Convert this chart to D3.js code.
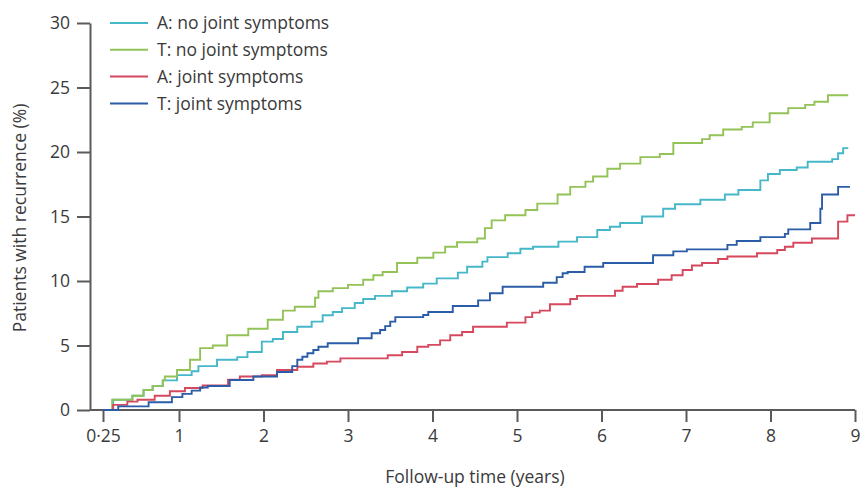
<!DOCTYPE html>
<html>
<head>
<meta charset="utf-8">
<script src="https://cdn.jsdelivr.net/npm/d3@7/dist/d3.min.js"></script>
<style>
  html, body { margin: 0; padding: 0; background: #fff; }
  svg { display: block; font-family: "Open Sans", "Noto Sans", sans-serif; }
  .tick text { fill: #3a3a3a; }
</style>
</head>
<body>
<svg id="chart" width="861" height="488"></svg>
<script>
// Cumulative recurrence, step points as [follow-up time (years), percent]
const aNoJoint = [
  [0.25,0],[0.35,0.8],[0.54,1.1],[0.65,1.55],[0.74,1.85],[0.84,2.3],[0.98,2.7],[1.15,3.0],
  [1.23,3.4],[1.45,3.9],[1.69,4.1],[1.81,4.5],[1.98,5.3],[2.11,5.5],[2.23,6.05],[2.40,6.45],
  [2.57,6.85],[2.70,7.35],[2.82,7.6],[2.93,7.9],[3.08,8.3],[3.18,8.6],[3.32,8.85],[3.52,9.2],
  [3.70,9.5],[3.89,9.8],[4.05,10.2],[4.30,10.65],[4.41,11.1],[4.59,11.5],[4.65,11.85],
  [4.89,12.15],[5.04,12.5],[5.19,12.65],[5.49,13.05],[5.71,13.4],[5.95,13.95],[6.10,14.2],
  [6.22,14.5],[6.48,15.0],[6.73,15.6],[6.87,15.95],[7.17,16.3],[7.46,16.7],[7.62,17.05],
  [7.88,17.8],[7.97,18.3],[8.11,18.6],[8.31,18.8],[8.44,19.25],[8.73,19.45],[8.80,19.9],
  [8.86,20.3],[8.92,20.3]
];
const tNoJoint = [
  [0.25,0],[0.34,0.8],[0.54,1.1],[0.65,1.55],[0.74,1.85],[0.84,2.3],[0.86,2.6],[0.98,3.1],
  [1.13,3.9],[1.25,4.8],[1.40,5.0],[1.57,5.8],[1.82,6.3],[2.05,7.0],[2.23,7.7],[2.37,8.0],
  [2.61,8.7],[2.65,9.2],[2.82,9.45],[3.00,9.7],[3.18,10.1],[3.30,10.45],[3.41,10.7],
  [3.58,11.4],[3.82,11.8],[4.01,12.2],[4.15,12.65],[4.29,13.0],[4.53,13.3],[4.62,14.1],
  [4.70,14.7],[4.86,15.1],[5.10,15.5],[5.24,16.0],[5.48,16.7],[5.63,17.3],[5.81,17.7],
  [5.90,18.1],[6.07,18.7],[6.22,19.1],[6.46,19.6],[6.69,19.85],[6.85,20.7],[7.19,21.0],
  [7.28,21.3],[7.44,21.75],[7.66,21.95],[7.79,22.3],[7.99,23.0],[8.21,23.4],[8.41,23.65],
  [8.52,23.9],[8.68,24.4],[8.92,24.4]
];
const aJoint = [
  [0.25,0],[0.35,0.4],[0.49,0.65],[0.59,0.8],[0.76,1.1],[0.91,1.45],[1.07,1.7],[1.28,1.9],
  [1.58,2.35],[1.72,2.6],[1.98,2.7],[2.16,3.1],[2.40,3.35],[2.59,3.6],[2.75,3.75],[2.91,4.0],
  [3.47,4.25],[3.64,4.5],[3.82,4.9],[3.95,5.05],[4.09,5.4],[4.21,5.8],[4.35,6.05],[4.48,6.45],
  [4.88,6.77],[5.10,7.2],[5.18,7.55],[5.27,7.7],[5.39,8.2],[5.63,8.6],[5.71,8.85],[6.16,9.25],
  [6.25,9.55],[6.42,9.77],[6.67,10.1],[6.83,10.45],[6.96,10.85],[7.07,11.2],[7.19,11.4],
  [7.38,11.7],[7.49,11.9],[7.84,12.15],[8.08,12.4],[8.17,12.65],[8.27,12.97],[8.49,13.3],
  [8.80,14.6],[8.91,15.1],[9.0,15.1]
];
const tJoint = [
  [0.25,0],[0.40,0.28],[0.70,0.6],[0.93,1.0],[1.04,1.25],[1.15,1.5],[1.25,1.75],[1.34,1.86],
  [1.60,2.33],[1.88,2.6],[2.16,2.95],[2.34,3.4],[2.40,3.9],[2.46,4.13],[2.52,4.4],[2.59,4.65],
  [2.65,4.9],[2.76,5.17],[3.12,5.56],[3.28,5.95],[3.38,6.2],[3.44,6.5],[3.50,6.85],[3.56,7.2],
  [3.89,7.36],[3.95,7.6],[4.24,8.06],[4.54,8.5],[4.68,9.05],[4.83,9.55],[5.31,9.87],
  [5.47,10.3],[5.54,10.6],[5.60,10.7],[5.80,11.1],[6.02,11.4],[6.61,12.0],[6.85,12.3],
  [7.01,12.45],[7.49,12.8],[7.60,13.1],[7.88,13.4],[8.17,13.65],[8.21,14.0],[8.47,14.5],
  [8.59,15.6],[8.61,16.7],[8.80,17.3],[8.94,17.3]
];

const seriesNames = ["A: no joint symptoms", "T: no joint symptoms", "A: joint symptoms", "T: joint symptoms"];
const seriesColors = ["#45b7c8", "#93c257", "#d6485d", "#2b5ca8"];
const seriesData = [aNoJoint, tNoJoint, aJoint, tJoint];

const xTicks = [0.25, 1, 2, 3, 4, 5, 6, 7, 8, 9];
const xTickLabels = ["0·25", "1", "2", "3", "4", "5", "6", "7", "8", "9"];
const yTicks = [0, 5, 10, 15, 20, 25, 30];

const svg = d3.select("#chart");
const axisColor = "#5a5a5a";
const fontSize = 17.5;

// First interval (0.25 to 1 year) is drawn on its own stretch of the axis
const x = d3.scaleLinear().domain([0.25, 1, 9]).range([103, 179, 855]);
const y = d3.scaleLinear().domain([0, 30]).range([410, 23]);
const yAxisX = 90;

// Y axis
const yAxisG = svg.append("g")
  .attr("transform", `translate(${yAxisX},0)`)
  .call(d3.axisLeft(y).tickValues(yTicks).tickSize(13).tickSizeOuter(0).tickPadding(7));
yAxisG.select(".domain").attr("stroke", axisColor).attr("stroke-width", 2);
yAxisG.selectAll(".tick line").attr("stroke", axisColor).attr("stroke-width", 2);
yAxisG.selectAll(".tick text").attr("font-size", fontSize).attr("font-family", "Open Sans");

// X axis
const xAxisG = svg.append("g")
  .attr("transform", `translate(0,${y(0)})`)
  .call(d3.axisBottom(x).tickValues(xTicks).tickFormat((d, i) => xTickLabels[i])
    .tickSize(12).tickSizeOuter(0).tickPadding(8));
xAxisG.select(".domain").remove();
xAxisG.append("line")
  .attr("x1", yAxisX).attr("x2", x(9))
  .attr("stroke", axisColor).attr("stroke-width", 2);
xAxisG.selectAll(".tick line").attr("stroke", axisColor).attr("stroke-width", 2);
xAxisG.selectAll(".tick text").attr("font-size", fontSize).attr("font-family", "Open Sans");

// Axis titles
svg.append("text")
  .attr("x", 475).attr("y", 483)
  .attr("text-anchor", "middle")
  .attr("font-size", fontSize).attr("fill", "#3a3a3a")
  .text("Follow-up time (years)");

svg.append("text")
  .attr("transform", `translate(26,${218}) rotate(-90)`)
  .attr("text-anchor", "middle")
  .attr("font-size", fontSize).attr("fill", "#3a3a3a")
  .text("Patients with recurrence (%)");

// Step curves
const line = d3.line()
  .x(d => x(d[0]))
  .y(d => y(d[1]))
  .curve(d3.curveStepAfter);

svg.append("g").selectAll("path")
  .data(seriesData)
  .join("path")
  .attr("d", line)
  .attr("fill", "none")
  .attr("stroke", (d, i) => seriesColors[i])
  .attr("stroke-width", 1.9)
  .attr("stroke-linejoin", "miter");

// Legend
const legend = svg.append("g");
seriesNames.forEach((name, i) => {
  const ly = 23 + i * 26.8;
  legend.append("line")
    .attr("x1", 110).attr("x2", 148).attr("y1", ly).attr("y2", ly)
    .attr("stroke", seriesColors[i]).attr("stroke-width", 2);
  legend.append("text")
    .attr("x", 157).attr("y", ly)
    .attr("dy", "0.35em")
    .attr("font-size", fontSize).attr("fill", "#3a3a3a")
    .text(name);
});
</script>
</body>
</html>
